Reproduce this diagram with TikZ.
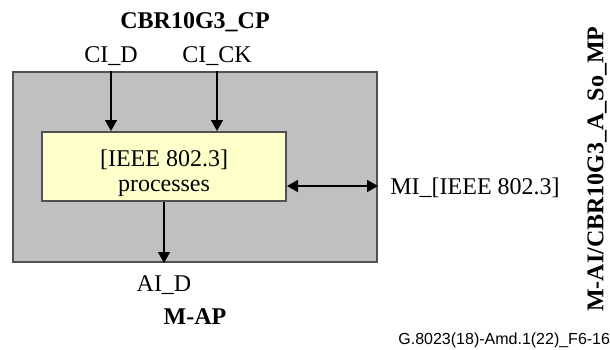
\documentclass[tikz,border=0pt]{standalone}
\usepackage{fontspec}
\setmainfont{Liberation Serif}
\setsansfont{Liberation Sans}
\usetikzlibrary{arrows.meta}

\definecolor{cpgray}{RGB}{192,192,192}
\definecolor{procyellow}{RGB}{255,255,204}
\definecolor{edgegray}{RGB}{80,80,80}

\tikzset{
	lbl/.style={font=\fontsize{12}{12.5}\selectfont, inner sep=0pt},
	bold lbl/.style={inner sep=0pt, font=\fontsize{12}{12.5}\selectfont\bfseries},
	blk/.style={draw=edgegray, line width=1pt, inner sep=0pt},
	sig/.style={-{Triangle[length=5.5pt,width=6pt]}, line width=0.8pt},
}

\begin{document}
\begin{tikzpicture}[x=0.5pt,y=-0.5pt]
	\useasboundingbox (0,0) rectangle (610,349);
	
	\node [blk, fill=cpgray, minimum width=182pt, minimum height=95pt] (cp) at (195,167) {};
	\node [blk, fill=procyellow, minimum width=122pt, minimum height=34.5pt] (proc) at (164,166.5) {};
	\node [lbl, align=center] (proctxt) at ([yshift=-3.5pt]proc.center) {[IEEE 802.3]\\processes};
	
	\node [bold lbl, anchor=base] (title) at (195,28) {CBR10G3\_CP};
	\node [lbl, anchor=base] (cid) at (111,62) {CI\_D};
	\node [lbl, anchor=base] (cick) at (217,62) {CI\_CK};
	\node [lbl, anchor=base] (aid) at (164,291) {AI\_D};
	\node [bold lbl, anchor=base] (map) at (195,324) {M-AP};
	\node [lbl, anchor=base west] (mi) at (390,194) {MI\_[IEEE 802.3]};
	\node [bold lbl, rotate=90] (mp) at (597,169) {M-AI/CBR10G3\_A\_So\_MP};
	\node [font=\sffamily\fontsize{8}{9}\selectfont, inner sep=0pt, anchor=base west] (fig) at (398,344) {G.8023(18)-Amd.1(22)\_F6-16};
	
	% inputs
	\draw [sig] (cp.north -| cid) -- (proc.north -| cid);
	\draw [sig] (cp.north -| cick) -- (proc.north -| cick);
	% output
	\draw [sig] (proc.south -| aid) -- (cp.south -| aid);
	% management
	\coordinate (mgmt) at (377,186);
	\draw [sig, {Triangle[length=5.5pt,width=6pt]}-{Triangle[length=5.5pt,width=6pt]}] (proc.east |- mgmt) -- (cp.east |- mgmt);
\end{tikzpicture}
\end{document}
